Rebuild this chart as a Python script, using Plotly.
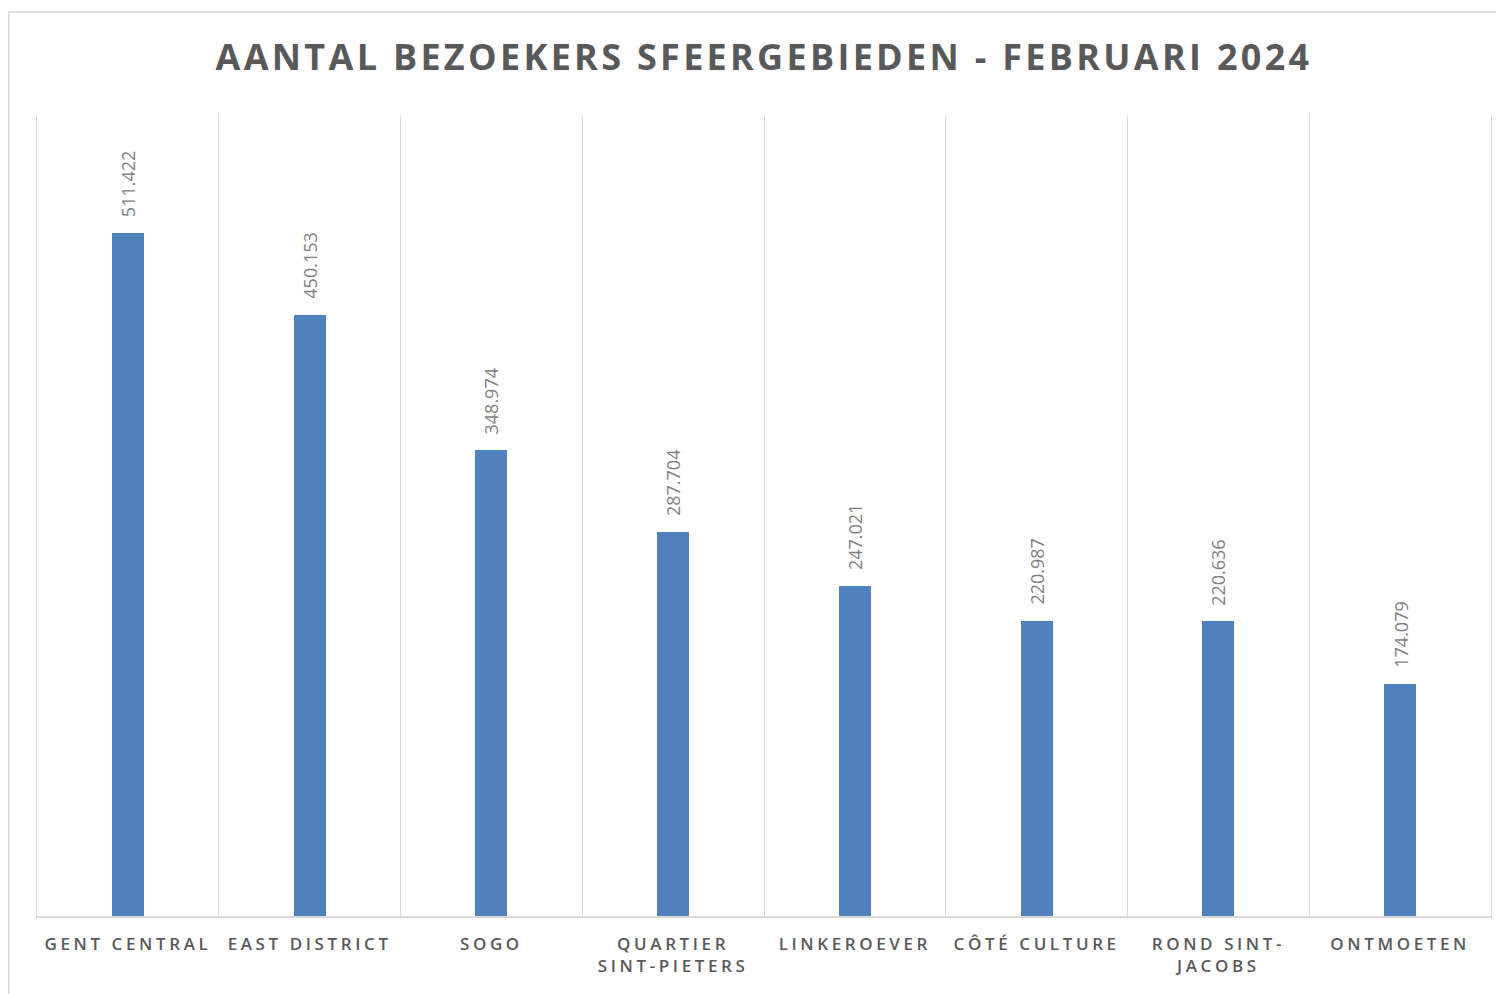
import plotly.graph_objects as go

categories = ["GENT CENTRAL", "EAST DISTRICT", "SOGO", "QUARTIER<br>SINT-PIETERS",
              "LINKEROEVER", "CÔTÉ CULTURE", "ROND SINT-<br>JACOBS", "ONTMOETEN"]
visitors = [511422, 450153, 348974, 287704, 247021, 220987, 220636, 174079]
value_labels = ["511.422", "450.153", "348.974", "287.704", "247.021", "220.987", "220.636", "174.079"]
title_text = "AANTAL BEZOEKERS SFEERGEBIEDEN - FEBRUARI 2024"

# page body has an 8px margin, so the figure is drawn 8px in from the window corner
W, H = 1496, 986
L, R, T, B = 29, 1483, 107, 908

fig = go.Figure()
fig.add_trace(go.Bar(
    x=categories, y=visitors, width=0.176,
    marker=dict(color="#4F81BD", line=dict(width=0)),
    hoverinfo="skip",
))

for c, v, lab in zip(categories, visitors, value_labels):
    fig.add_annotation(
        x=c, y=v, text=lab, textangle=-90, showarrow=False,
        xanchor="center", yanchor="bottom", yshift=14,
        font=dict(family="Open Sans", size=18, color="#7F7F7F"),
    )

# outer chart border
pw, ph = R - L, B - T
fig.add_shape(type="rect", xref="paper", yref="paper",
              x0=(0.75 - L) / pw, x1=(1520 - L) / pw,
              y0=(B - 1000) / ph, y1=(B - 4) / ph,
              line=dict(color="#D9D9D9", width=1.5), fillcolor="rgba(0,0,0,0)", layer="below")

fig.update_layout(
    width=W, height=H,
    margin=dict(l=L, r=W - R, t=T, b=H - B),
    paper_bgcolor="white", plot_bgcolor="white",
    separators=",.",
    showlegend=False,
    bargap=0,
    title=dict(text="<b>" + title_text + "</b>", x=(756 - 0) / W, xanchor="center",
               y=1 - 49 / H, yanchor="middle",
               font=dict(family="Open Sans", size=36, color="#595959")),
    xaxis=dict(
        type="category", tickson="boundaries", showgrid=True,
        gridcolor="#D9D9D9", gridwidth=1.2,
        showline=True, linecolor="#D9D9D9", linewidth=1.5,
        ticks="", ticklen=0, tickangle=0, ticklabelstandoff=12,
        tickfont=dict(family="Open Sans", size=17, color="#595959", weight=600),
        fixedrange=True,
    ),
    yaxis=dict(range=[0, 600000], showgrid=False, showticklabels=False,
               zeroline=False, showline=True, mirror=True,
               linecolor="#D9D9D9", linewidth=1.2, ticks=""),
)

css = (".xtick text{letter-spacing:3.6px;}"
       ".gtitle{letter-spacing:3.3px;}")
post = ("var s=document.createElement('style');s.innerHTML='" + css +
        "';document.head.appendChild(s);")

fig.write_html("out.html", post_script=post)
